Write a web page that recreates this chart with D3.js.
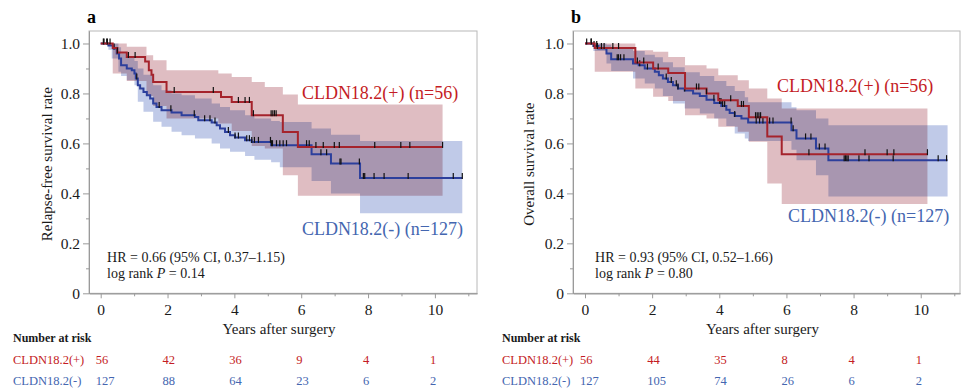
<!DOCTYPE html>
<html>
<head>
<meta charset="utf-8">
<script src="https://cdn.jsdelivr.net/npm/d3@7"></script>
<style>
  body { margin: 0; background: #fff; }
  svg { font-family: "Liberation Serif", "Times New Roman", serif; }
</style>
</head>
<body>
<svg id="chart" width="962" height="388"></svg>
<script>
// ---- data ----
const riskYears = [0, 2, 4, 6, 8, 10];
const groupLabels = ['CLDN18.2(+)', 'CLDN18.2(-)'];

// a: relapse-free survival, [years, survival]
const rfsPos = [[0, 1], [0.36, 0.982], [0.50, 0.964], [0.78, 0.946], [1.33, 0.928], [1.44, 0.893], [1.52, 0.875],
  [1.57, 0.846], [1.97, 0.806], [3.60, 0.786], [3.92, 0.766], [4.52, 0.713], [5.45, 0.646], [5.90, 0.586], [10.23, 0.586]];
// [years, lower, upper]
const rfsPosCi = [[0, 1, 1], [0.36, 0.88, 1], [0.78, 0.85, 0.987], [1.37, 0.79, 0.953], [1.57, 0.75, 0.933],
  [1.97, 0.70, 0.893], [3.52, 0.68, 0.88], [3.92, 0.65, 0.866], [4.52, 0.59, 0.846], [4.91, 0.58, 0.826],
  [5.45, 0.473, 0.796], [5.90, 0.39, 0.756], [10.23, 0.39, 0.756]];
const rfsPosCensor = [0.08, 0.2, 0.28, 0.5, 0.83, 1.03, 2.2, 3.37, 4.12, 4.32, 4.45, 4.57, 5.1, 5.15, 5.2, 5.25,
  6.44, 6.66, 6.99, 7.14, 8.2, 8.98, 9.25, 10.23];

const rfsNeg = [[0, 1], [0.23, 0.992], [0.38, 0.98], [0.48, 0.96], [0.55, 0.94], [0.61, 0.913], [0.78, 0.90],
  [0.93, 0.893], [1.01, 0.88], [1.05, 0.86], [1.11, 0.833], [1.18, 0.82], [1.28, 0.806], [1.38, 0.793], [1.48, 0.78],
  [1.57, 0.76], [1.67, 0.746], [1.82, 0.733], [2.12, 0.724], [2.42, 0.713], [2.82, 0.706], [2.92, 0.693],
  [3.32, 0.684], [3.47, 0.673], [3.57, 0.66], [3.72, 0.646], [3.87, 0.633], [4.02, 0.624], [4.32, 0.613],
  [4.52, 0.606], [5.10, 0.593], [6.31, 0.557], [6.89, 0.52], [7.76, 0.462], [10.82, 0.462]];
const rfsNegCi = [[0, 1, 1], [0.23, 0.975, 1], [0.33, 0.94, 1], [0.53, 0.887, 0.985], [0.61, 0.87, 0.96],
  [0.78, 0.853, 0.945], [1.01, 0.833, 0.93], [1.11, 0.767, 0.9], [1.28, 0.727, 0.875], [1.57, 0.687, 0.833],
  [1.82, 0.667, 0.813], [2.12, 0.647, 0.80], [2.42, 0.633, 0.793], [2.82, 0.62, 0.78], [3.32, 0.60, 0.76],
  [3.57, 0.58, 0.746], [3.87, 0.567, 0.733], [4.32, 0.55, 0.713], [4.6, 0.535, 0.70], [5.10, 0.525, 0.69],
  [5.36, 0.505, 0.686], [6.31, 0.45, 0.66], [6.89, 0.40, 0.635], [7.76, 0.32, 0.61], [10.82, 0.32, 0.61]];
const rfsNegCensor = [0.1, 0.18, 0.4, 1.08, 1.75, 2.1, 2.8, 3.11, 3.27, 3.42, 3.82, 4.02, 4.12, 4.37, 4.45, 4.52,
  4.6, 4.72, 5.08, 5.11, 5.14, 5.26, 5.36, 5.46, 5.56, 6.16, 6.24, 6.59, 6.76, 7.16, 7.19, 7.74, 7.86, 7.9, 8.18,
  8.48, 9.2, 10.55, 10.82];

const rfsRiskPos = [56, 42, 36, 9, 4, 1];
const rfsRiskNeg = [127, 88, 64, 23, 6, 2];

// b: overall survival
const osPos = [[0, 1], [0.29, 0.982], [1.50, 0.924], [2.03, 0.90], [2.48, 0.882], [2.98, 0.82], [3.62, 0.80],
  [3.97, 0.773], [4.55, 0.75], [4.88, 0.705], [5.43, 0.628], [5.86, 0.557], [10.20, 0.557]];
const osPosCi = [[0, 1, 1], [0.29, 0.887, 1], [1.50, 0.82, 0.973], [2.03, 0.787, 0.967], [2.48, 0.77, 0.946],
  [2.98, 0.713, 0.913], [3.62, 0.70, 0.90], [3.97, 0.667, 0.873], [4.55, 0.647, 0.853], [4.88, 0.607, 0.82],
  [5.43, 0.44, 0.78], [5.86, 0.357, 0.74], [10.20, 0.357, 0.74]];
const osPosCensor = [0.05, 0.19, 0.37, 0.49, 0.57, 0.83, 1.0, 1.56, 1.75, 2.18, 3.32, 3.39, 3.62, 4.34, 4.66,
  4.72, 5.08, 5.13, 5.18, 5.23, 6.67, 8.34, 9.0, 9.2, 10.2];

const osNeg = [[0, 1], [0.25, 0.99], [0.4, 0.98], [0.64, 0.96], [0.78, 0.937], [1.43, 0.92], [1.6, 0.913],
  [1.78, 0.90], [2.08, 0.887], [2.2, 0.873], [2.32, 0.86], [2.47, 0.846], [2.62, 0.833], [2.77, 0.82],
  [2.97, 0.812], [3.22, 0.80], [3.42, 0.79], [3.62, 0.775], [3.85, 0.762], [4.06, 0.75], [4.21, 0.735],
  [4.31, 0.722], [4.46, 0.71], [4.66, 0.70], [4.86, 0.684], [6.15, 0.653], [6.3, 0.62], [6.88, 0.58],
  [7.25, 0.533], [10.8, 0.533]];
const osNegCi = [[0, 1, 1], [0.25, 0.97, 1], [0.64, 0.92, 0.995], [0.78, 0.89, 0.985], [1.43, 0.86, 0.97],
  [1.78, 0.84, 0.955], [2.08, 0.82, 0.945], [2.32, 0.79, 0.925], [2.62, 0.76, 0.905], [2.97, 0.74, 0.885],
  [3.42, 0.72, 0.87], [3.85, 0.70, 0.85], [4.21, 0.67, 0.83], [4.46, 0.64, 0.81], [4.76, 0.62, 0.785],
  [4.86, 0.61, 0.765], [6.15, 0.575, 0.745], [6.3, 0.533, 0.733], [6.88, 0.473, 0.70], [7.25, 0.387, 0.673],
  [10.8, 0.387, 0.673]];
const osNegCensor = [0.18, 0.27, 0.35, 0.96, 1.0, 1.06, 1.16, 1.63, 1.86, 2.42, 2.57, 2.72, 2.77, 2.97, 3.84,
  4.01, 4.05, 4.1, 4.16, 4.46, 5.1, 5.2, 5.3, 5.5, 5.6, 6.14, 6.2, 6.57, 6.73, 6.98, 7.15, 7.72, 7.76, 7.8, 7.84,
  8.16, 8.46, 9.18, 10.52, 10.77];

const osRiskPos = [56, 44, 35, 8, 4, 1];
const osRiskNeg = [127, 105, 74, 26, 6, 2];

const yTicksMajor = [0, 0.2, 0.4, 0.6, 0.8, 1.0];
const yTicksMinor = [0.1, 0.3, 0.5, 0.7, 0.9];
const xTicksMajor = [0, 2, 4, 6, 8, 10];
const xTicksMinor = [1, 3, 5, 7, 9, 11];

const colors = {
  pos: '#a5232c', neg: '#2c3f9c',
  posText: '#c41c24', negText: '#4466b0',
  posBand: '#dfbdc2', negBand: '#c0cae8',
  axis: '#9a9a9a', frame: '#b8b8b8'
};

const panels = [
  { tag: 'a', left: 89, right: 477, x0: -0.35, x1: 11.26, yLabelX: 52, tableX: 13,
    yLabel: 'Relapse-free survival rate',
    pos: rfsPos, posCi: rfsPosCi, posCensor: rfsPosCensor, neg: rfsNeg, negCi: rfsNegCi, negCensor: rfsNegCensor,
    riskPos: rfsRiskPos, riskNeg: rfsRiskNeg,
    hr: 'HR = 0.66 (95% CI, 0.37–1.15)', p: '0.14',
    posLabel: [6.02, 0.778], negLabel: [6.02, 0.233], statAt: 0.19 },
  { tag: 'b', left: 573, right: 960, x0: -0.357, x1: 11.17, yLabelX: 534, tableX: 502,
    yLabel: 'Overall survival rate',
    pos: osPos, posCi: osPosCi, posCensor: osPosCensor, neg: osNeg, negCi: osNegCi, negCensor: osNegCensor,
    riskPos: osRiskPos, riskNeg: osRiskNeg,
    hr: 'HR = 0.93 (95% CI, 0.52–1.66)', p: '0.80',
    posLabel: [5.72, 0.806], negLabel: [6.05, 0.285], statAt: 0.3 }
];

const svg = d3.select('#chart');
const plotTop = 31, plotBottom = 293.3;

function stepAt(km, t) {
  let s = km[0][1];
  km.forEach(d => { if (d[0] <= t) s = d[1]; });
  return s;
}

function styleAxis(ax, size) {
  ax.attr('font-family', null).attr('font-size', size);
  ax.select('.domain').attr('stroke', colors.axis);
  ax.selectAll('.tick line').attr('stroke', colors.axis);
  ax.selectAll('.tick text').attr('fill', '#1a1a1a');
}

function drawPanel(p) {
  const g = svg.append('g');
  const x = d3.scaleLinear().domain([p.x0, p.x1]).range([p.left, p.right]);
  const y = d3.scaleLinear().domain([0, 1.05]).range([plotBottom, plotTop]);

  g.append('rect')
    .attr('x', p.left).attr('y', plotTop)
    .attr('width', p.right - p.left).attr('height', plotBottom - plotTop)
    .attr('fill', 'none').attr('stroke', colors.frame);

  // confidence bands, overlap darkens like the original
  const band = d3.area().curve(d3.curveStepAfter)
    .x(d => x(d[0])).y0(d => y(d[1])).y1(d => y(d[2]));
  const bands = g.append('g').style('isolation', 'isolate');
  bands.append('path').datum(p.posCi).attr('d', band).attr('fill', colors.posBand);
  bands.append('path').datum(p.negCi).attr('d', band).attr('fill', colors.negBand)
    .style('mix-blend-mode', 'multiply');

  const line = d3.line().curve(d3.curveStepAfter).x(d => x(d[0])).y(d => y(d[1]));
  [[p.neg, p.negCensor, colors.neg], [p.pos, p.posCensor, colors.pos]].forEach(([km, cens, col]) => {
    g.append('path').datum(km).attr('d', line)
      .attr('fill', 'none').attr('stroke', col).attr('stroke-width', 2);
    g.append('g').selectAll('line').data(cens).join('line')
      .attr('x1', d => x(d)).attr('x2', d => x(d))
      .attr('y1', d => y(stepAt(km, d)) - 5).attr('y2', d => y(stepAt(km, d)) + 1)
      .attr('stroke', '#111').attr('stroke-width', 1.2);
  });

  // axes
  const yMinor = g.append('g').attr('transform', `translate(${p.left},0)`)
    .call(d3.axisLeft(y).tickValues(yTicksMinor).tickSize(3).tickSizeOuter(0).tickFormat(''));
  styleAxis(yMinor, 15);
  const yMajor = g.append('g').attr('transform', `translate(${p.left},0)`)
    .call(d3.axisLeft(y).tickValues(yTicksMajor).tickSize(6).tickSizeOuter(0).tickPadding(3)
      .tickFormat(d => d === 0 ? '0' : d.toFixed(1)));
  styleAxis(yMajor, 15.5);

  const xMinor = g.append('g').attr('transform', `translate(0,${plotBottom})`)
    .call(d3.axisBottom(x).tickValues(xTicksMinor).tickSize(3).tickSizeOuter(0).tickFormat(''));
  styleAxis(xMinor, 15);
  const xMajor = g.append('g').attr('transform', `translate(0,${plotBottom})`)
    .call(d3.axisBottom(x).tickValues(xTicksMajor).tickSize(5).tickSizeOuter(0).tickPadding(6));
  styleAxis(xMajor, 15.5);

  // labels
  g.append('text').attr('x', p.left - 2).attr('y', 23)
    .attr('font-size', 18).attr('font-weight', 'bold').text(p.tag);
  g.append('text')
    .attr('transform', `translate(${p.yLabelX},${(plotTop + plotBottom) / 2 + 2}) rotate(-90)`)
    .attr('text-anchor', 'middle').attr('font-size', 15).attr('fill', '#1a1a1a').text(p.yLabel);
  g.append('text').attr('x', (p.left + p.right) / 2 - 4).attr('y', 334)
    .attr('text-anchor', 'middle').attr('font-size', 15).attr('fill', '#1a1a1a').text('Years after surgery');

  g.append('text').attr('x', x(p.posLabel[0])).attr('y', y(p.posLabel[1]))
    .attr('font-size', 18).attr('fill', colors.posText).text(groupLabels[0] + ' (n=56)');
  g.append('text').attr('x', x(p.negLabel[0])).attr('y', y(p.negLabel[1]))
    .attr('font-size', 18).attr('fill', colors.negText).text(groupLabels[1] + ' (n=127)');

  g.append('text').attr('x', x(p.statAt)).attr('y', 261.7)
    .attr('font-size', 14).attr('fill', '#1a1a1a').text(p.hr);
  const lr = g.append('text').attr('x', x(p.statAt)).attr('y', 277.7)
    .attr('font-size', 14).attr('fill', '#1a1a1a');
  lr.append('tspan').text('log rank ');
  lr.append('tspan').attr('font-style', 'italic').text('P');
  lr.append('tspan').text(' = ' + p.p);

  // number at risk table
  g.append('text').attr('x', p.tableX).attr('y', 342)
    .attr('font-size', 12).attr('font-weight', 'bold').attr('fill', '#1a1a1a').text('Number at risk');
  [[p.riskPos, colors.posText, groupLabels[0], 364], [p.riskNeg, colors.negText, groupLabels[1], 385]]
    .forEach(([vals, col, label, yy]) => {
      g.append('text').attr('x', p.tableX).attr('y', yy)
        .attr('font-size', 12.5).attr('fill', col).text(label);
      g.append('g').selectAll('text').data(vals).join('text')
        .attr('x', (d, i) => x(riskYears[i]) - 5).attr('y', yy)
        .attr('font-size', 12.5).attr('fill', col).text(d => d);
    });
}

panels.forEach(drawPanel);
</script>
</body>
</html>
